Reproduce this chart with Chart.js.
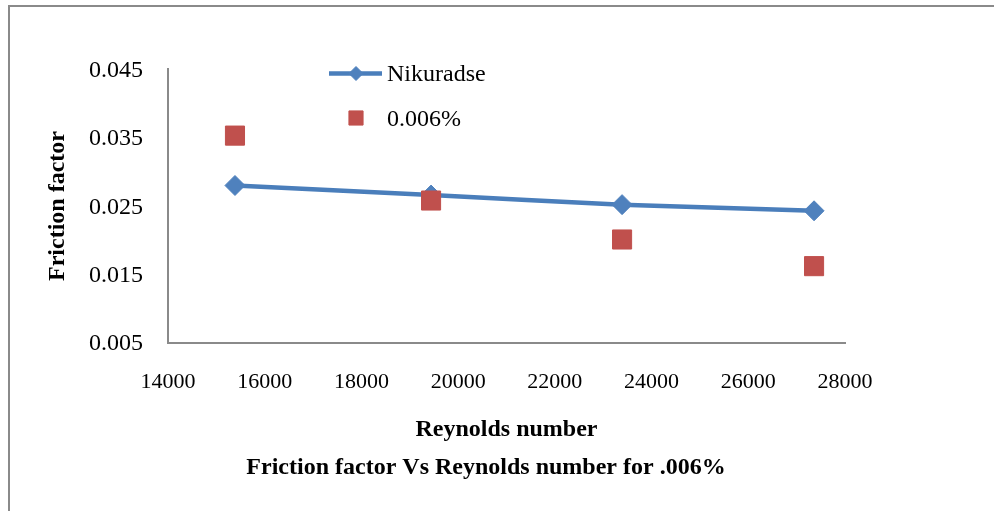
<!DOCTYPE html>
<html>
<head>
<meta charset="utf-8">
<script src="https://cdn.jsdelivr.net/npm/chart.js@4/dist/chart.umd.min.js"></script>
<style>
  html, body { margin: 0; padding: 0; background: #fff; width: 994px; height: 511px; overflow: hidden; }
  #wrap { position: absolute; left: 0; top: 0; width: 972px; height: 511px; }
  #frame { position: absolute; left: 8px; top: 5px; width: 990px; height: 520px;
           border-left: 2px solid #8a8a8a; border-top: 2px solid #8a8a8a; pointer-events: none; }
</style>
</head>
<body>
<div id="wrap"><canvas id="c" width="972" height="511"></canvas></div>
<div id="frame"></div>
<script>
// ---- data ----
const reynolds = [15385, 19440, 23390, 27360];
const nikuradse = [0.0280, 0.0266, 0.0252, 0.0243];
const measured006 = [0.0353, 0.0258, 0.0201, 0.0162];
const seriesNames = ['Nikuradse', '0.006%'];
const xTicks = [14000, 16000, 18000, 20000, 22000, 24000, 26000, 28000];
const yTicks = [0.005, 0.015, 0.025, 0.035, 0.045];
const titleText = 'Friction factor Vs Reynolds number for .006%';
const xTitle = 'Reynolds number';
const yTitle = 'Friction factor';

const BLUE = '#4A7EBB';
const BLUE_M = '#4F81BD';
const RED = '#C0504D';
const FONT = "'Liberation Serif', 'Times New Roman', serif";

const toPts = (xs, ys) => xs.map((x, i) => ({ x: x, y: ys[i] }));

const legendPlugin = {
  id: 'innerLegend',
  afterDraw(chart) {
    const ctx = chart.ctx;
    const items = [
      { name: seriesNames[0], y: 73.5, line: true, style: 'rectRot', r: 7, color: BLUE_M },
      { name: seriesNames[1], y: 118, line: false, style: 'rect', r: 10, color: RED }
    ];
    ctx.save();
    items.forEach(it => {
      if (it.line) {
        ctx.strokeStyle = BLUE;
        ctx.lineWidth = 4.5;
        ctx.beginPath();
        ctx.moveTo(329, it.y);
        ctx.lineTo(382, it.y);
        ctx.stroke();
      }
      ctx.fillStyle = it.color;
      ctx.strokeStyle = it.color;
      ctx.lineWidth = 1;
      Chart.helpers.drawPoint(ctx, { pointStyle: it.style, radius: it.r, rotation: 0, borderWidth: 1 }, 356, it.y);
      ctx.fillStyle = '#000';
      ctx.font = "24px " + FONT;
      ctx.textBaseline = 'middle';
      ctx.textAlign = 'left';
      ctx.fillText(it.name, 387, it.y + 1.5);
    });
    ctx.restore();
  }
};

new Chart(document.getElementById('c'), {
  type: 'scatter',
  data: {
    datasets: [
      {
        label: seriesNames[0],
        data: toPts(reynolds, nikuradse),
        showLine: true,
        borderColor: BLUE,
        borderWidth: 4.5,
        tension: 0.25,
        pointStyle: 'rectRot',
        pointRadius: 10,
        pointBackgroundColor: BLUE_M,
        pointBorderColor: BLUE_M,
        pointBorderWidth: 1,
        order: 2
      },
      {
        label: seriesNames[1],
        data: toPts(reynolds, measured006),
        showLine: false,
        pointStyle: 'rect',
        pointRadius: 13.5,
        pointBackgroundColor: RED,
        pointBorderColor: RED,
        pointBorderWidth: 1,
        order: 1
      }
    ]
  },
  options: {
    responsive: false,
    animation: false,
    devicePixelRatio: 1,
    layout: { padding: { top: 69.3, left: 0, right: 0, bottom: 0 } },
    plugins: {
      legend: { display: false },
      tooltip: { enabled: false },
      title: {
        display: true,
        position: 'bottom',
        text: titleText,
        color: '#000',
        font: { family: FONT, size: 24, weight: 'bold', lineHeight: 1.2 },
        padding: { top: 0, bottom: 28.6 }
      }
    },
    scales: {
      x: {
        type: 'linear',
        min: xTicks[0],
        max: xTicks[xTicks.length - 1],
        afterBuildTicks: s => { s.ticks = xTicks.map(v => ({ value: v })); },
        afterFit: s => { s.height = 110.9; s.paddingLeft = 0; s.paddingRight = 0; },
        grid: { display: false, drawTicks: false },
        border: { display: true, color: '#8a8a8a', width: 2 },
        ticks: {
          color: '#000',
          padding: 26,
          font: { family: FONT, size: 22, lineHeight: 1.2 },
          maxRotation: 0,
          autoSkip: false,
          callback: v => String(v)
        },
        title: {
          display: true,
          text: xTitle,
          color: '#000',
          font: { family: FONT, size: 24, weight: 'bold', lineHeight: 1.2 },
          padding: { top: 0, bottom: 9.2 }
        }
      },
      y: {
        type: 'linear',
        min: yTicks[0],
        max: yTicks[yTicks.length - 1],
        afterBuildTicks: s => { s.ticks = yTicks.map(v => ({ value: v })); },
        afterFit: s => { s.width = 168; s.paddingTop = 0; s.paddingBottom = 0; },
        grid: { display: false, drawTicks: false },
        border: { display: true, color: '#8a8a8a', width: 2 },
        ticks: {
          color: '#000',
          padding: 25,
          labelOffset: 1.5,
          font: { family: FONT, size: 24, lineHeight: 1.2 },
          autoSkip: false,
          callback: v => Number(v).toFixed(3)
        },
        title: {
          display: true,
          text: yTitle,
          color: '#000',
          font: { family: FONT, size: 24, weight: 'bold', lineHeight: 1.2 },
          padding: { top: 43.1, bottom: 0 }
        }
      },
      yRightSpace: {
        type: 'linear',
        position: 'right',
        min: yTicks[0],
        max: yTicks[yTicks.length - 1],
        afterFit: s => { s.width = 127; s.paddingTop = 0; s.paddingBottom = 0; },
        grid: { display: false, drawTicks: false },
        border: { display: false },
        ticks: { display: false }
      }
    }
  },
  plugins: [legendPlugin]
});
</script>
</body>
</html>
